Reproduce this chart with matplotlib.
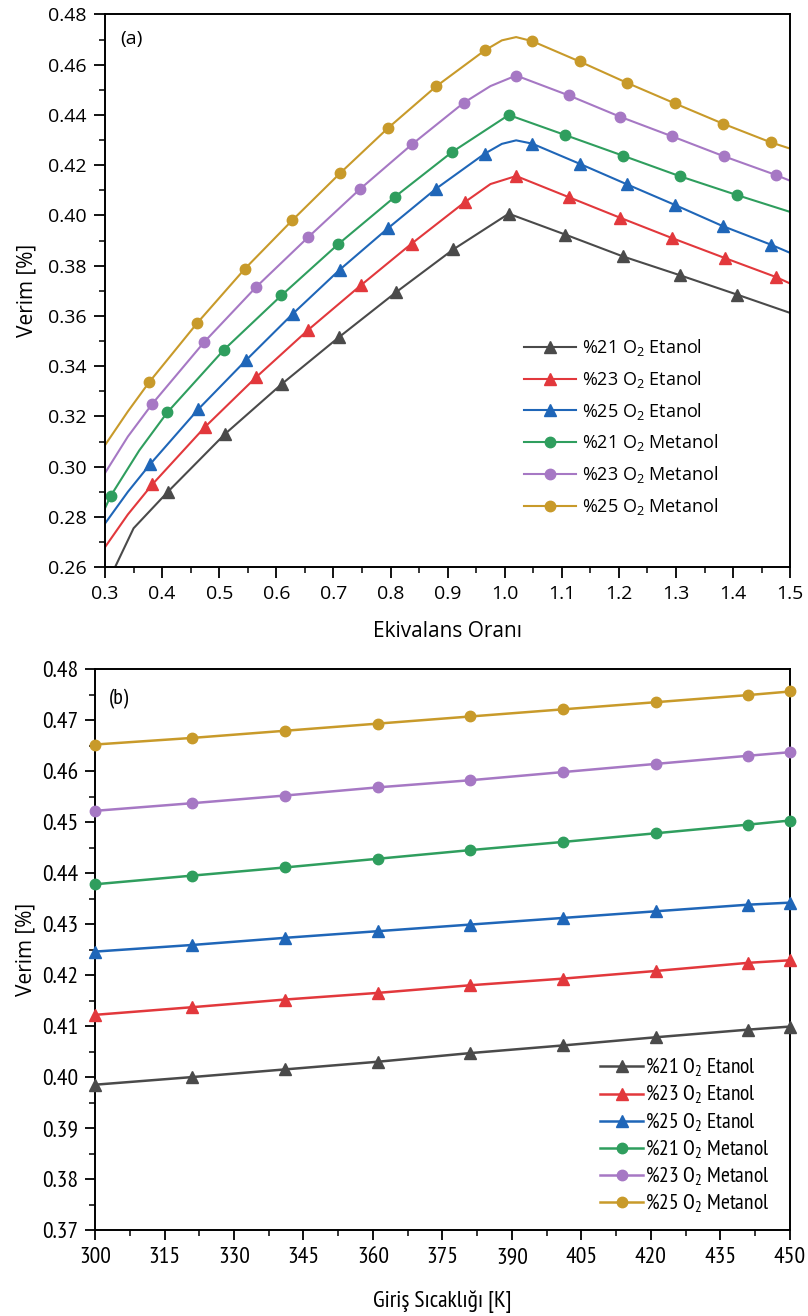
import matplotlib
matplotlib.use('Agg')
import matplotlib.pyplot as plt
from matplotlib.ticker import MultipleLocator, FormatStrFormatter

plt.rcParams['font.family'] = ['Open Sans', 'DejaVu Sans']
plt.rcParams['mathtext.default'] = 'regular'

# ---- panel (a): efficiency vs equivalence ratio ----
phi_e21 = [0.3175, 0.35, 0.41, 0.51, 0.61, 0.71, 0.81, 0.91, 1.007, 1.106, 1.207, 1.307, 1.407, 1.5]
eta_e21 = [0.26, 0.2755, 0.290, 0.313, 0.333, 0.3516, 0.3695, 0.3865, 0.4007, 0.3924, 0.3837, 0.3762, 0.3685, 0.3612]
phi_e23 = [0.3, 0.34, 0.383, 0.475, 0.565, 0.656, 0.748, 0.837, 0.930, 0.975, 1.02, 1.112, 1.202, 1.293, 1.385, 1.475, 1.5]
eta_e23 = [0.268, 0.281, 0.293, 0.3158, 0.3357, 0.3545, 0.3722, 0.3888, 0.4053, 0.4125, 0.4157, 0.4073, 0.3991, 0.3910, 0.3831, 0.3755, 0.3729]
phi_e25 = [0.3, 0.34, 0.379, 0.463, 0.547, 0.629, 0.711, 0.796, 0.880, 0.965, 0.995, 1.02, 1.048, 1.131, 1.214, 1.298, 1.3815, 1.466, 1.5]
eta_e25 = [0.2774, 0.290, 0.301, 0.3228, 0.3424, 0.3609, 0.3784, 0.395, 0.4107, 0.4246, 0.4285, 0.4299, 0.4286, 0.4206, 0.4124, 0.4042, 0.3958, 0.3884, 0.3851]
phi_m21 = [0.3, 0.31, 0.36, 0.409, 0.5085, 0.609, 0.708, 0.807, 0.9075, 1.007, 1.106, 1.207, 1.307, 1.407, 1.5]
eta_m21 = [0.2835, 0.2884, 0.3065, 0.3216, 0.3466, 0.3682, 0.3885, 0.4073, 0.4252, 0.440, 0.432, 0.4238, 0.4156, 0.4081, 0.4014]
phi_m23 = [0.3, 0.34, 0.383, 0.474, 0.565, 0.656, 0.746, 0.8375, 0.9285, 0.975, 1.02, 1.112, 1.202, 1.293, 1.3845, 1.475, 1.5]
eta_m23 = [0.2975, 0.312, 0.3251, 0.3497, 0.3716, 0.3914, 0.4104, 0.4283, 0.4449, 0.4515, 0.4557, 0.4478, 0.4393, 0.4315, 0.4235, 0.4161, 0.4138]
phi_m25 = [0.3, 0.34, 0.3775, 0.4615, 0.545, 0.628, 0.712, 0.7956, 0.880, 0.965, 0.995, 1.02, 1.048, 1.131, 1.214, 1.298, 1.3815, 1.466, 1.5]
eta_m25 = [0.3086, 0.322, 0.3337, 0.3572, 0.3788, 0.3981, 0.4169, 0.4348, 0.4514, 0.4657, 0.4697, 0.4710, 0.4694, 0.4613, 0.4528, 0.4446, 0.4366, 0.4291, 0.4266]

# ---- panel (b): efficiency vs inlet temperature ----
temp = [300, 321, 341, 361, 381, 401, 421, 441, 450]
t_e21 = [0.3985, 0.4000, 0.4015, 0.4030, 0.4047, 0.4062, 0.4078, 0.4093, 0.4099]
t_e23 = [0.4122, 0.4137, 0.4152, 0.4165, 0.4180, 0.4193, 0.4208, 0.4224, 0.4229]
t_e25 = [0.4246, 0.4259, 0.4273, 0.4286, 0.4299, 0.4312, 0.4325, 0.4338, 0.4342]
t_m21 = [0.4378, 0.4395, 0.4411, 0.4428, 0.4445, 0.4461, 0.4478, 0.4495, 0.4503]
t_m23 = [0.4522, 0.4537, 0.4552, 0.4568, 0.4582, 0.4598, 0.4614, 0.4630, 0.4637]
t_m25 = [0.4652, 0.4665, 0.4679, 0.4693, 0.4707, 0.4721, 0.4735, 0.4749, 0.4756]

labels = ['%21 O$_2$ Etanol', '%23 O$_2$ Etanol', '%25 O$_2$ Etanol',
          '%21 O$_2$ Metanol', '%23 O$_2$ Metanol', '%25 O$_2$ Metanol']
colors = ['#4a4a4a', '#e2383c', '#1f66b8', '#2f9e5e', '#a678c4', '#c89a2a']
markers = ['^', '^', '^', 'o', 'o', 'o']

top_x = [phi_e21, phi_e23, phi_e25, phi_m21, phi_m23, phi_m25]
top_y = [eta_e21, eta_e23, eta_e25, eta_m21, eta_m23, eta_m25]
top_marks = [list(range(2, 13)), list(range(2, 9)) + list(range(10, 16)),
             list(range(2, 10)) + list(range(12, 18)), [1] + list(range(3, 14)),
             list(range(2, 9)) + list(range(10, 16)), list(range(2, 10)) + list(range(12, 18))]
bot_y = [t_e21, t_e23, t_e25, t_m21, t_m23, t_m25]

fig = plt.figure(figsize=(8.08, 13.16), dpi=100)
ax1 = fig.add_axes([0.130, 0.569, 0.848, 0.420])
ax2 = fig.add_axes([0.1176, 0.0653, 0.860, 0.4263])

for i in range(6):
    ax1.plot(top_x[i], top_y[i], color=colors[i], lw=1.5, marker=markers[i],
             markersize=8 if markers[i] == '^' else 7.5, markevery=top_marks[i],
             label=labels[i])

ax1.set_xlim(0.3, 1.5)
ax1.set_ylim(0.26, 0.48)
ax1.xaxis.set_major_locator(MultipleLocator(0.1))
ax1.xaxis.set_minor_locator(MultipleLocator(0.05))
ax1.yaxis.set_major_locator(MultipleLocator(0.02))
ax1.yaxis.set_minor_locator(MultipleLocator(0.01))
ax1.xaxis.set_major_formatter(FormatStrFormatter('%.1f'))
ax1.yaxis.set_major_formatter(FormatStrFormatter('%.2f'))
ax1.tick_params(which='major', direction='out', length=8, width=1.3, labelsize=14, pad=5)
ax1.tick_params(which='minor', direction='out', length=4.5, width=1.1)
for s in ax1.spines.values():
    s.set_linewidth(1.4)
ax1.set_xlabel('Ekivalans Oranı', fontsize=15, labelpad=13)
ax1.set_ylabel('Verim [%]', fontsize=15, labelpad=8)
ax1.text(0.022, 0.972, '(a)', transform=ax1.transAxes, fontsize=14, va='top')
ax1.legend(loc='upper left', bbox_to_anchor=(524 / 808, 1 - 337 / 1316),
           bbox_transform=fig.transFigure, frameon=False, fontsize=13,
           handlelength=2.9, handletextpad=0.3, labelspacing=0.6,
           borderpad=0, borderaxespad=0)

# narrow face for panel (b)
narrow = ['PT Sans Narrow', 'Roboto Condensed', 'DejaVu Sans']
for i in range(6):
    ax2.plot(temp, bot_y[i], color=colors[i], lw=1.8, marker=markers[i],
             markersize=8 if markers[i] == '^' else 7.5, label=labels[i], clip_on=False, zorder=3)

ax2.set_xlim(300, 450)
ax2.set_ylim(0.37, 0.48)
ax2.xaxis.set_major_locator(MultipleLocator(15))
ax2.xaxis.set_minor_locator(MultipleLocator(7.5))
ax2.yaxis.set_major_locator(MultipleLocator(0.01))
ax2.yaxis.set_minor_locator(MultipleLocator(0.005))
ax2.yaxis.set_major_formatter(FormatStrFormatter('%.2f'))
ax2.tick_params(which='major', direction='out', length=7, width=1.3, labelsize=17, pad=5)
ax2.tick_params(which='minor', direction='out', length=4, width=1.1)
for lab in ax2.get_xticklabels() + ax2.get_yticklabels():
    lab.set_family(narrow)
for s in ax2.spines.values():
    s.set_linewidth(1.4)
ax2.set_xlabel('Giriş Sıcaklığı [K]', fontsize=17, labelpad=16, family=narrow)
ax2.set_ylabel('Verim [%]', fontsize=15, labelpad=4)
ax2.text(0.02, 0.965, '(b)', transform=ax2.transAxes, fontsize=16, va='top', family=narrow)
ax2.legend(loc='upper left', bbox_to_anchor=(600 / 808, 1 - 1056 / 1316),
           bbox_transform=fig.transFigure, frameon=False,
           prop={'family': narrow, 'size': 15.5},
           handlelength=2.0, handletextpad=0.1, labelspacing=0.18,
           borderpad=0, borderaxespad=0)

fig.savefig('out.png', dpi=100)
